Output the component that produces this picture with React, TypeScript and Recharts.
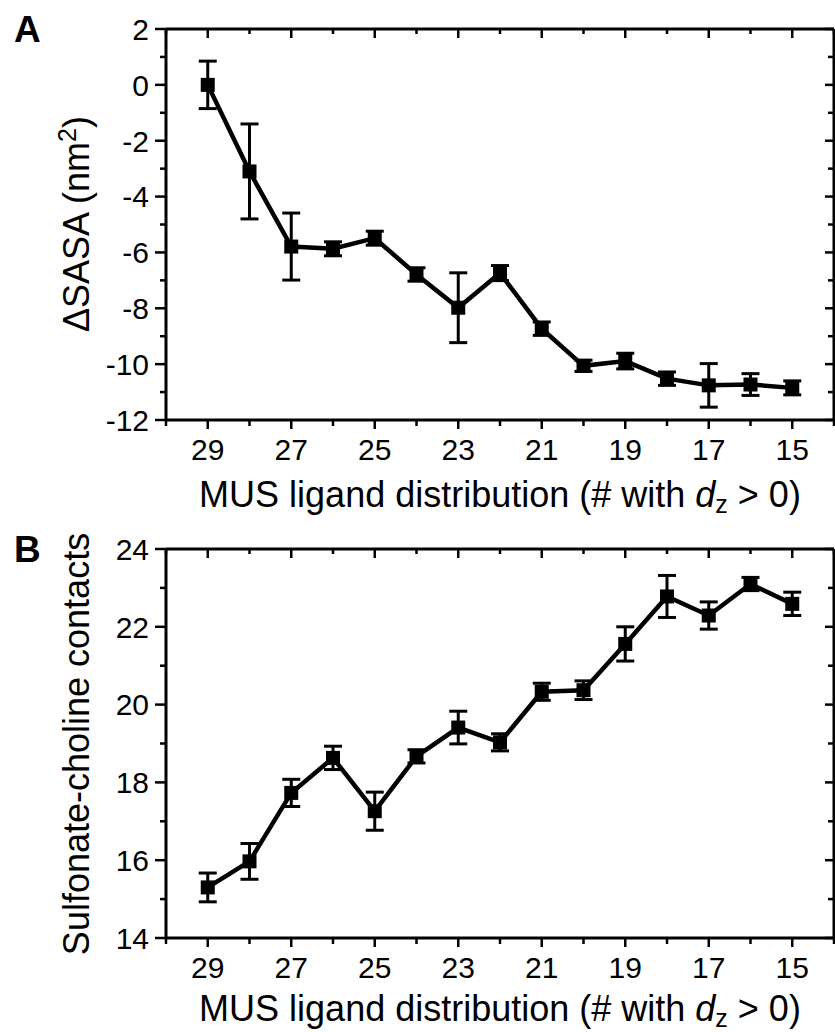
import { LineChart, Line, XAxis, YAxis, ErrorBar } from "recharts"

// MUS ligand distribution (# with dz > 0)
const ligandCounts = [29, 28, 27, 26, 25, 24, 23, 22, 21, 20, 19, 18, 17, 16, 15]

// panel A: change in SASA (nm^2)
const sasaValues = [0, -3.1, -5.79, -5.87, -5.49, -6.79, -7.98, -6.74, -8.73, -10.06, -9.89, -10.52, -10.76, -10.73, -10.85]
const sasaErrors = [0.85, 1.7, 1.2, 0.25, 0.25, 0.24, 1.25, 0.27, 0.24, 0.2, 0.28, 0.24, 0.78, 0.39, 0.25]

// panel B: sulfonate-choline contacts
const contactValues = [15.3, 15.97, 17.73, 18.63, 17.26, 18.67, 19.41, 19.03, 20.33, 20.37, 21.56, 22.78, 22.29, 23.1, 22.59]
const contactErrors = [0.37, 0.46, 0.35, 0.3, 0.49, 0.17, 0.42, 0.22, 0.22, 0.24, 0.44, 0.54, 0.35, 0.17, 0.3]

const xTicks = [14, 15, 16, 17, 18, 19, 20, 21, 22, 23, 24, 25, 26, 27, 28, 29, 30]
const sasaTicks = [-12, -11, -10, -9, -8, -7, -6, -5, -4, -3, -2, -1, 0, 1, 2]
const contactTicks = [14, 15, 16, 17, 18, 19, 20, 21, 22, 23, 24]

const FONT = "'Liberation Sans', Arial, Helvetica, sans-serif"
const W = 835

const sasaData = ligandCounts.map((x, i) => ({ x, y: sasaValues[i], err: sasaErrors[i] }))
const contactData = ligandCounts.map((x, i) => ({ x, y: contactValues[i], err: contactErrors[i] }))

const isOdd = (v: number) => Math.abs(v % 2) === 1

// ticks drawn by hand so major/minor lengths and the mirrored sides match
function bottomTick(props: any) {
  const { x, y, payload } = props
  const major = isOdd(payload.value)
  return (
    <g>
      <line x1={x} y1={y} x2={x} y2={y + (major ? 9 : 6)} stroke="#000" strokeWidth={2.5} />
      {major && (
        <text x={x} y={y + 40} textAnchor="middle" fontSize={30} fontFamily={FONT} fill="#000">
          {payload.value}
        </text>
      )}
    </g>
  )
}

function topTick(props: any) {
  const { x, y, payload } = props
  const major = isOdd(payload.value)
  return <line x1={x} y1={y} x2={x} y2={y + (major ? 9 : 5)} stroke="#000" strokeWidth={2.5} />
}

function leftTick(props: any) {
  const { x, y, payload } = props
  const major = !isOdd(payload.value)
  return (
    <g>
      <line x1={x} y1={y} x2={x - (major ? 11 : 6)} y2={y} stroke="#000" strokeWidth={2.5} />
      {major && (
        <text x={x - 17} y={y} dy="0.36em" textAnchor="end" fontSize={30} fontFamily={FONT} fill="#000">
          {payload.value}
        </text>
      )}
    </g>
  )
}

function rightTick(props: any) {
  const { x, y, payload } = props
  const major = !isOdd(payload.value)
  return <line x1={x} y1={y} x2={x - (major ? 9 : 6)} y2={y} stroke="#000" strokeWidth={2.5} />
}

function square(props: any) {
  const { cx, cy, index } = props
  return <rect key={`sq-${index}`} x={cx - 7} y={cy - 7} width={14} height={14} fill="#000" />
}

function Panel({ data, yDomain, yTicks, height, bottomHeight }: any) {
  const frame = { stroke: "#000", strokeWidth: 3 }
  return (
    <LineChart width={W} height={height} data={data} margin={{ top: 0, right: 0, bottom: 0, left: 0 }}>
      <XAxis
        xAxisId="bottom"
        dataKey="x"
        type="number"
        domain={[14, 30]}
        reversed
        ticks={xTicks}
        interval={0}
        tickSize={0}
        tickMargin={0}
        tickLine={false}
        tick={bottomTick}
        axisLine={frame}
        height={bottomHeight}
        allowDataOverflow
      />
      <XAxis
        xAxisId="top"
        orientation="top"
        dataKey="x"
        type="number"
        domain={[14, 30]}
        reversed
        ticks={xTicks}
        interval={0}
        tickSize={0}
        tickMargin={0}
        tickLine={false}
        tick={topTick}
        axisLine={frame}
        height={29}
        allowDataOverflow
      />
      <YAxis
        yAxisId="left"
        type="number"
        domain={yDomain}
        ticks={yTicks}
        interval={0}
        tickSize={0}
        tickMargin={0}
        tickLine={false}
        tick={leftTick}
        axisLine={frame}
        width={166}
        allowDataOverflow
      />
      <YAxis
        yAxisId="right"
        orientation="right"
        type="number"
        domain={yDomain}
        ticks={yTicks}
        interval={0}
        tickSize={0}
        tickMargin={0}
        tickLine={false}
        tick={rightTick}
        axisLine={frame}
        width={1}
        allowDataOverflow
      />
      {/* invisible series so the mirrored top/right axes get their scales */}
      <Line
        xAxisId="top"
        yAxisId="right"
        dataKey="y"
        stroke="none"
        dot={false}
        activeDot={false}
        isAnimationActive={false}
      />
      <Line
        xAxisId="bottom"
        yAxisId="left"
        type="linear"
        dataKey="y"
        stroke="#000"
        strokeWidth={4.5}
        dot={square}
        activeDot={false}
        isAnimationActive={false}
      >
        <ErrorBar dataKey="err" direction="y" width={9} stroke="#000" strokeWidth={3} isAnimationActive={false} />
      </Line>
    </LineChart>
  )
}

function XTitle({ y }: { y: number }) {
  return (
    <text x={500} y={y} textAnchor="middle" fontSize={36} fontFamily={FONT} fill="#000">
      <tspan>MUS ligand distribution (# with </tspan>
      <tspan fontStyle="italic">d</tspan>
      <tspan fontSize={25} dy={6}>z</tspan>
      <tspan dy={-6}> &gt; 0)</tspan>
    </text>
  )
}

export default function App() {
  return (
    <div style={{ position: "absolute", left: 0, top: 0, width: W, height: 1032, background: "#fff" }}>
      <Panel data={sasaData} yDomain={[-12, 2]} yTicks={sasaTicks} height={520} bottomHeight={100} />
      <Panel data={contactData} yDomain={[14, 24]} yTicks={contactTicks} height={512} bottomHeight={94} />
      <svg
        width={W}
        height={1032}
        style={{ position: "absolute", left: 0, top: 0, pointerEvents: "none" }}
      >
        <text x={14} y={42} fontSize={37} fontWeight={700} fontFamily={FONT} fill="#000">A</text>
        <text x={14} y={562} fontSize={37} fontWeight={700} fontFamily={FONT} fill="#000">B</text>
        <text
          x={89}
          y={224}
          transform="rotate(-90, 89, 224)"
          textAnchor="middle"
          fontSize={36}
          fontFamily={FONT}
          fill="#000"
        >
          <tspan>ΔSASA (nm</tspan>
          <tspan fontSize={25} dy={-13}>2</tspan>
          <tspan dy={13}>)</tspan>
        </text>
        <text
          x={89}
          y={744}
          transform="rotate(-90, 89, 744)"
          textAnchor="middle"
          fontSize={36}
          fontFamily={FONT}
          fill="#000"
        >
          Sulfonate-choline contacts
        </text>
        <XTitle y={507} />
        <XTitle y={1021} />
      </svg>
    </div>
  )
}
